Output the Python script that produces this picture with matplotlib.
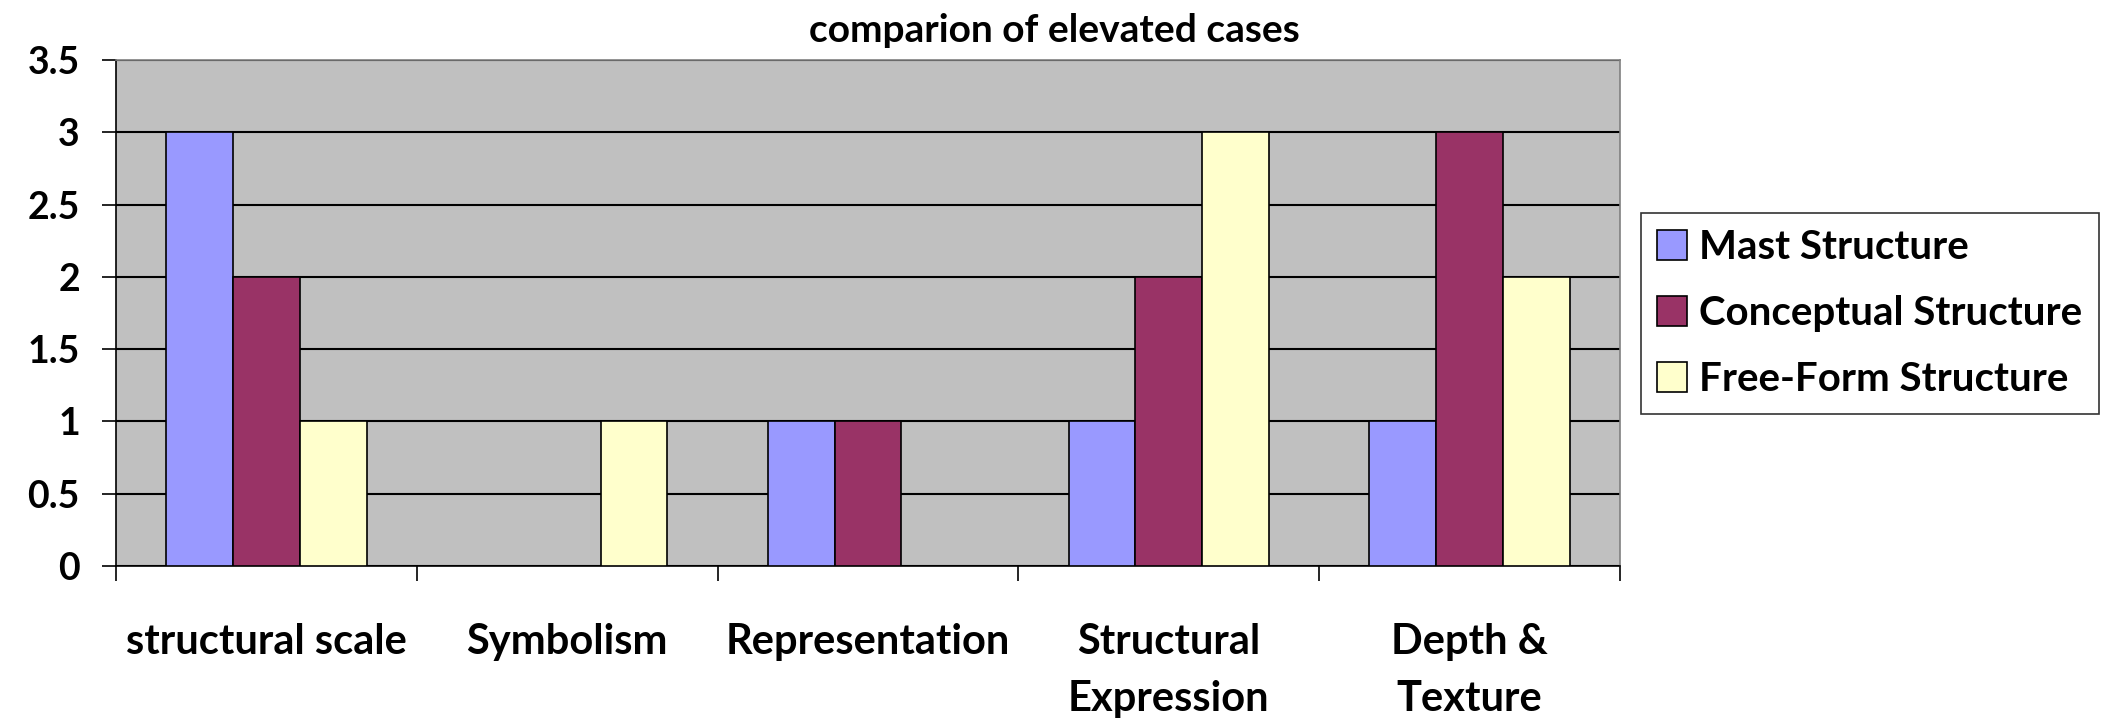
import numpy as np
import matplotlib
matplotlib.use('Agg')
import matplotlib.pyplot as plt

categories = ['structural scale', 'Symbolism', 'Representation',
              'Structural\nExpression', 'Depth &\nTexture']
series_names = ['Mast Structure', 'Conceptual Structure', 'Free-Form Structure']
mast = [3, 0, 1, 1, 1]
conceptual = [2, 0, 1, 2, 3]
free_form = [1, 1, 0, 3, 2]
colors = ['#9999FF', '#993366', '#FFFFCC']
y_ticks = [0, 0.5, 1, 1.5, 2, 2.5, 3, 3.5]
y_labels = ['0', '0.5', '1', '1.5', '2', '2.5', '3', '3.5']

plt.rcParams['font.family'] = ['Lato', 'DejaVu Sans']
plt.rcParams['font.weight'] = 'bold'

fig = plt.figure(figsize=(21.22, 7.21), dpi=100)
ax = fig.add_axes([116 / 2122, 1 - 566 / 721, 1504 / 2122, 506 / 721])
ax.set_facecolor('#C0C0C0')

x = np.arange(len(categories))
w = 1 / 4.5
for i, (vals, name) in enumerate(zip([mast, conceptual, free_form], series_names)):
    ax.bar(x + (i - 1) * w, vals, w, color=colors[i], edgecolor='black',
           linewidth=1.2, label=name, zorder=3)

ax.set_xlim(-0.5, len(categories) - 0.5)
ax.set_ylim(0, 3.5)
ax.set_yticks(y_ticks, y_labels)
ax.yaxis.grid(True, color='black', linewidth=1.5, zorder=1)
ax.set_axisbelow(True)

ax.set_xticks(np.arange(len(categories) + 1) - 0.5)
ax.set_xticklabels([])
ax.set_xticks(x, categories, minor=True)
ax.tick_params(axis='x', which='major', length=11, width=1.2, direction='out')
ax.tick_params(axis='x', which='minor', length=0, pad=41, labelsize=30)
for lbl in ax.get_xticklabels(minor=True):
    lbl.set_verticalalignment('top')
    lbl.set_linespacing(1.6)
ax.tick_params(axis='y', length=10, width=1.2, pad=16, labelsize=27)

for s in ['top', 'right']:
    ax.spines[s].set_color('#808080')
    ax.spines[s].set_linewidth(1.2)
for s in ['left', 'bottom']:
    ax.spines[s].set_color('black')
    ax.spines[s].set_linewidth(1.2)

fig.text(0.497, 1 - 30 / 721, 'comparion of elevated cases', ha='center',
         va='center', fontsize=28, fontweight='bold')

leg = fig.legend(loc='upper left', bbox_to_anchor=(1641 / 2122, 1 - 213 / 721),
                 borderaxespad=0, fontsize=29, frameon=True, fancybox=False,
                 edgecolor='black', handlelength=0.75, handleheight=0.75,
                 handletextpad=0.3, labelspacing=0.72, borderpad=0.4)
leg.get_frame().set_linewidth(1.2)

fig.savefig('out.png', dpi=100)
